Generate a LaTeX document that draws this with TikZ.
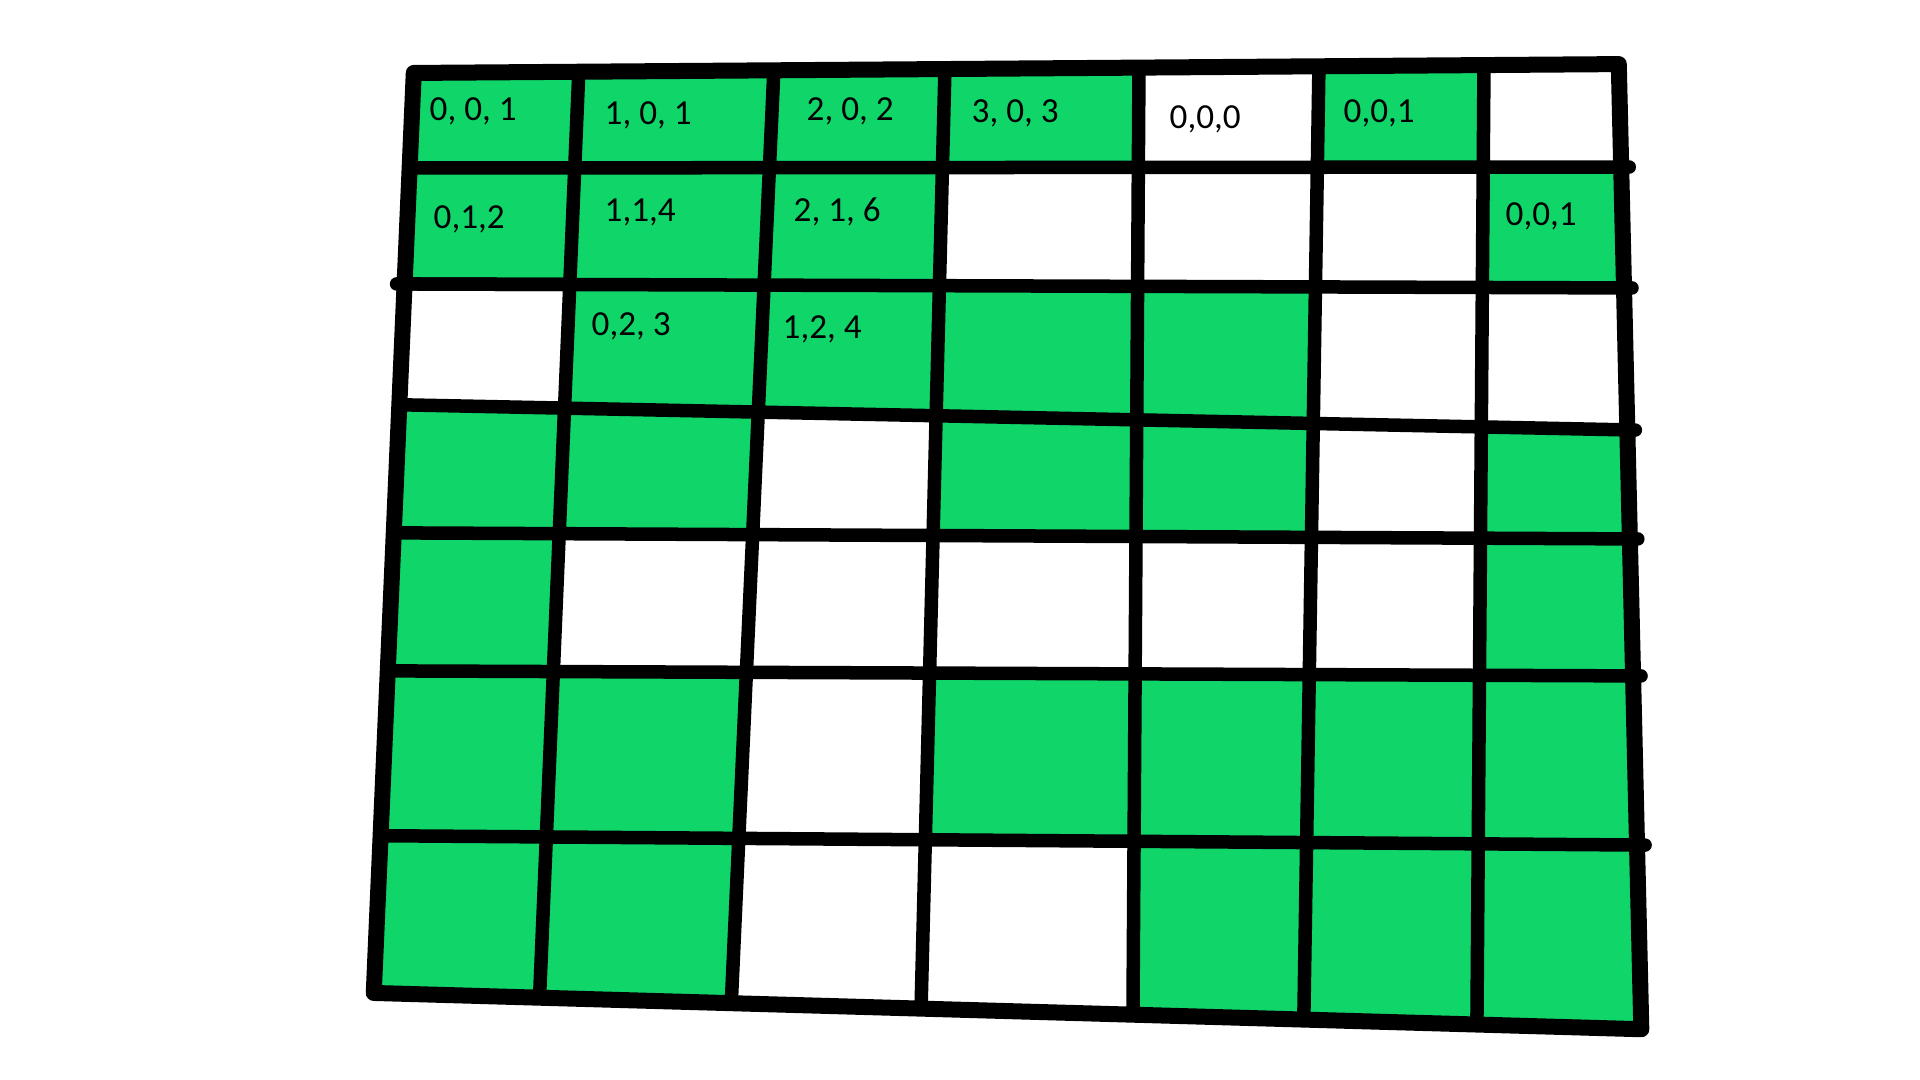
\documentclass[tikz,border=0pt]{standalone}
\usepackage{fontspec}
\setmainfont{Carlito}
\usetikzlibrary{positioning}

\definecolor{cellgreen}{RGB}{16,214,106}

\begin{document}
\begin{tikzpicture}[
      x=0.01cm, y=-0.01cm,
      font=\fontsize{10}{12}\selectfont,
      cell/.style={fill=cellgreen, draw=none},
      grid/.style={line width=0.135cm, line cap=round, line join=round},
      rim/.style={line width=0.16cm, line cap=round, line join=round},
      lab/.style={anchor=west, inner sep=0pt}
    ]
    % Page
    \useasboundingbox (0,0) rectangle (1920,1080);

    % Ends of the grid lines
    \foreach \i/\tx/\bx in {0/414/373, 1/579/539, 2/774/731, 3/945/921,
                            4/1139/1133, 5/1319/1304, 6/1484/1477, 7/1619/1641} {
      \coordinate (t\i) at (\tx,68);
      \coordinate (b\i) at (\bx,1010);
    }
    \foreach \j/\ly/\ry in {0/73/64, 1/168/167, 2/284/288, 3/405/430,
                            4/533/539, 5/671/676, 6/836/845, 7/994/1029} {
      \coordinate (l\j) at (410,\ly);
      \coordinate (r\j) at (1630,\ry);
    }

    % Crossings
    \foreach \i in {0,...,7} {
      \foreach \j in {0,...,7} {
        \coordinate (p-\i-\j) at (intersection cs: first line={(t\i)--(b\i)},
                                                   second line={(l\j)--(r\j)});
      }
    }

    % Green cells (row/column)
    \foreach \r/\c [evaluate=\r as \rr using int(\r+1),
                    evaluate=\c as \cc using int(\c+1)] in
        {0/0, 0/1, 0/2, 0/3, 0/5,
         1/0, 1/1, 1/2, 1/6,
         2/1, 2/2, 2/3, 2/4,
         3/0, 3/1, 3/3, 3/4, 3/6,
         4/0, 4/6,
         5/0, 5/1, 5/3, 5/4, 5/5, 5/6,
         6/0, 6/1, 6/4, 6/5, 6/6} {
      \fill[cell] (p-\c-\r) -- (p-\cc-\r) -- (p-\cc-\rr) -- (p-\c-\rr) -- cycle;
    }

    % Grid lines
    \foreach \i in {1,...,6} {
      \draw[grid] (p-\i-0) -- (p-\i-7);
      \draw[grid, shorten >=-0.08cm] (p-0-\i) -- (p-7-\i);
    }
    \draw[grid, shorten <=-0.08cm] (p-0-2) -- (p-1-2);
    \draw[rim] (p-0-0) -- (p-7-0) -- (p-7-7) -- (p-0-7) -- cycle;

    % Labels
    \node[lab] (c00) at (429,111) {0, 0, 1};
    \node[lab] (c01) at (604,115) {1, 0, 1};
    \node[lab] (c02) at (806,111) {2, 0, 2};
    \node[lab] (c03) at (971,113) {3, 0, 3};
    \node[lab] (c04) at (1169,119) {0,0,0};
    \node[lab] (c05) at (1343,113) {0,0,1};
    \node[lab] (c10) at (433,219) {0,1,2};
    \node[lab] (c11) at (604,212) {1,1,4};
    \node[lab] (c12) at (793,212) {2, 1, 6};
    \node[lab] (c16) at (1505,216) {0,0,1};
    \node[lab] (c21) at (591,326) {0,2, 3};
    \node[lab] (c22) at (782,329) {1,2, 4};
  \end{tikzpicture}
\end{document}
